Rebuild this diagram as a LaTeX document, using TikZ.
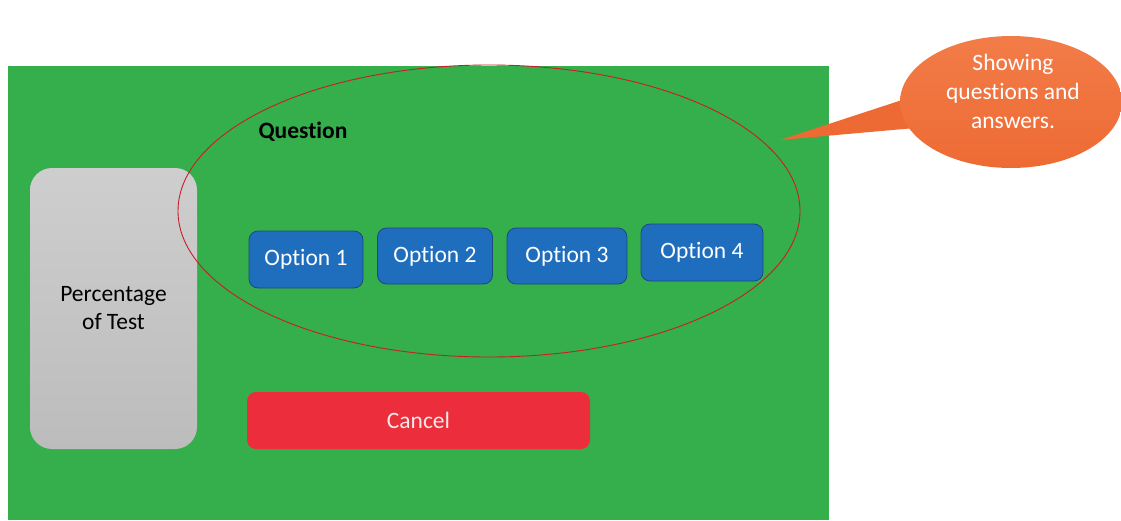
\documentclass[tikz,border=0pt]{standalone}
\usepackage{fontspec}
\setmainfont[Ligatures=NoCommon]{Carlito}
\usetikzlibrary{shapes.geometric}
\definecolor{bggreen}{RGB}{53,174,76}
\definecolor{optblue}{RGB}{31,110,190}
\definecolor{optborder}{RGB}{28,72,130}
\definecolor{cancelred}{RGB}{236,46,60}
\definecolor{calloutorange}{RGB}{238,106,52}
\definecolor{calloutlight}{RGB}{242,124,72}
\definecolor{ellred}{RGB}{200,30,40}
\definecolor{greytop}{RGB}{206,206,206}
\definecolor{greybot}{RGB}{188,188,188}
\definecolor{canceltext}{RGB}{246,232,232}
\tikzset{
  txt/.style={font=\fontsize{23.5}{28}\selectfont},
  optbox/.style={txt, draw=optborder, line width=0.8pt, fill=optblue, text=white,
    rounded corners=9pt, inner sep=0pt},
}
\begin{document}
\begin{tikzpicture}[x=1pt,y=-1pt]
\useasboundingbox (0,0) rectangle (1121,520);
\fill[white] (0,0) rectangle (1121,520);
\fill[bggreen] (8,66) rectangle (829,520);

% percentage panel
\node[txt, rectangle, rounded corners=22pt, top color=greytop, bottom color=greybot,
  minimum width=167pt, minimum height=281pt, inner sep=0pt, align=center]
  (pct) at (113.5,308.5) {Percentage\\of Test};

% options
\node[optbox, minimum width=114pt, minimum height=57pt] (o1) at (306,259.5) {Option 1};
\node[optbox, minimum width=115pt, minimum height=56pt] (o2) at (435,256) {Option 2};
\node[optbox, minimum width=120pt, minimum height=56pt] (o3) at (567,256) {Option 3};
\node[optbox, minimum width=122pt, minimum height=57pt] (o4) at (702,252.5) {Option 4};

% question label
\node[txt, font=\fontsize{23.5}{28}\selectfont\bfseries, inner sep=0pt] (q) at (303,132) {Question};

% cancel
\node[txt, fill=cancelred, text=canceltext, rounded corners=9pt,
  minimum width=343pt, minimum height=57pt, inner sep=0pt] (cancel) at (418.5,420.5) {Cancel};

% highlight ellipse
\node[ellipse, draw=ellred, line width=0.9pt, minimum width=622pt, minimum height=292pt,
  inner sep=0pt] (area) at (489,211) {};

% callout
\coordinate (tip) at (780,140);
\coordinate (t1) at (902,100);
\coordinate (t2) at (915,128);
\fill[calloutorange] (t1) -- (tip) -- (t2) -- cycle;
\node[ellipse, top color=calloutlight, bottom color=calloutorange,
  minimum width=222pt, minimum height=132pt, inner sep=0pt] (callout) at (1011,102) {};
\node[txt, text=white, align=center, font=\fontsize{23.5}{29}\selectfont, inner sep=0pt]
  (ctext) at (1013,91) {Showing\\questions and\\answers.};
\end{tikzpicture}
\end{document}
